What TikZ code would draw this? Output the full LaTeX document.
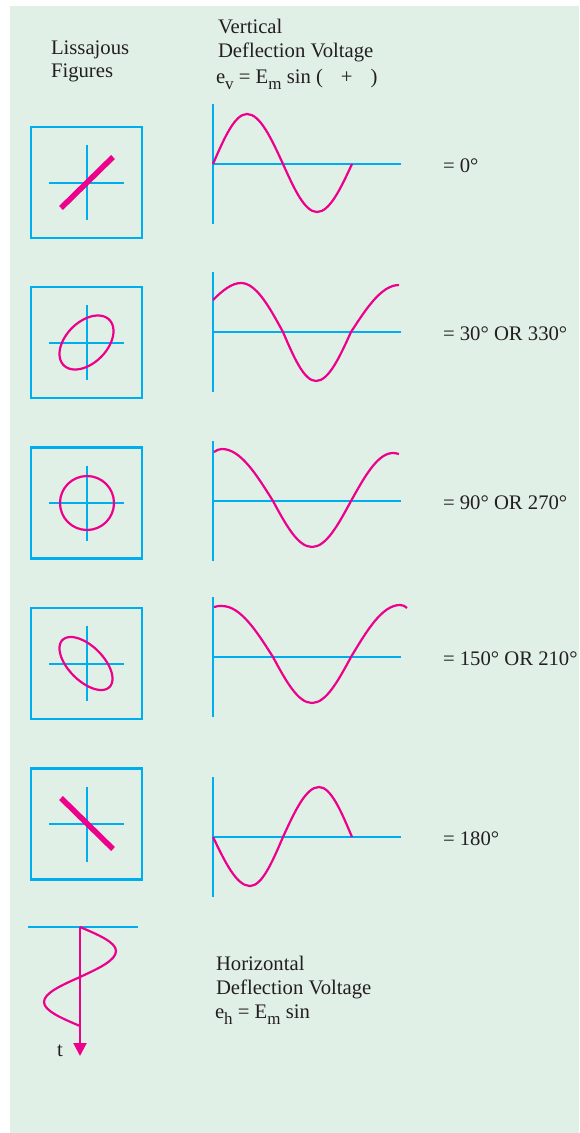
\documentclass[tikz,border=0pt]{standalone}
\usepackage{fontspec}
\setmainfont{Liberation Serif}
\usetikzlibrary{arrows.meta}
\definecolor{bgc}{RGB}{225,240,230}
\definecolor{cy}{RGB}{0,174,239}
\definecolor{mg}{RGB}{236,0,140}
\definecolor{tx}{RGB}{35,31,32}
\newcommand{\sbs}[1]{\raisebox{-6pt}{\fontsize{17}{17}\selectfont #1}}
\begin{document}
\begin{tikzpicture}[x=1pt,y=-1pt,
  lbox/.style={draw=cy, line width=2.5pt, minimum size=111pt, inner sep=0pt, outer sep=0pt},
  axisline/.style={cy, line width=2.4pt},
  crossline/.style={cy, line width=2pt},
  wave/.style={mg, line width=2.2pt},
  bar/.style={mg, line width=5.5pt},
  txt/.style={anchor=base west, inner sep=0pt, outer sep=0pt, text=tx, font=\fontsize{20.7}{24}\selectfont}]
\useasboundingbox (0,0) rectangle (579,1133);
\fill[bgc] (10,6) rectangle (579,1133);

% headings
\node[txt] (h1) at (51,54) {Lissajous};
\node[txt] (h2) at (51,77) {Figures};
\node[txt] (v1) at (218,33) {Vertical};
\node[txt] (v2) at (218,57) {Deflection Voltage};
\node[txt] (v3) at (216,83) {e\sbs{v} = E\sbs{m} sin (\hspace{18pt}+\hspace{18pt})};

% boxes, crosses, axes, labels
\foreach \i/\yc/\ya/\lab in {1/182.5/164/{= 0°},2/342.5/332/{= 30° OR 330°},3/503/501/{= 90° OR 270°},4/663.5/657/{= 150° OR 210°},5/824/837/{= 180°}} {
  \node[lbox] (box\i) at (86.5,\yc) {};
  \draw[crossline] (49,\yc) -- (124,\yc);
  \draw[crossline] (86.5,\yc-37.5) -- (86.5,\yc+37.5);
  \draw[axisline] (213,\ya-60) -- (213,\ya+60);
  \draw[axisline] (213,\ya) -- (401,\ya);
  \node[txt] (lab\i) at (443,\ya+8) {\lab};
}

% Lissajous figures
\draw[bar] (61,208) -- (113,157);
\draw[wave] plot[domain=0:355, samples=72, smooth cycle, variable=\t] ({86.5+27*sin(\t)}, {342.5-27*sin(\t+65)});
\draw[wave] (87,503) circle[radius=27];
\draw[wave] plot[domain=0:355, samples=72, smooth cycle, variable=\t] ({86+26.5*sin(\t)}, {663.5-26.5*sin(\t+125)});
\draw[bar] (61,798) -- (113,849);

% waves
\draw[wave] (213,164) sin (247,114) cos (283,164) sin (317,212) cos (352,164);
\draw[wave] (213,300) .. controls (223,290) and (232,283) .. (241,283) cos (283,332) sin (316,381) cos (351,332) sin (399,285);
\draw[wave] (214,452) .. controls (217,450) and (219,449) .. (222,449) cos (273,501) sin (312,547) cos (351,501) sin (393,453) .. controls (395,453) and (397,453.5) .. (399,454);
\draw[wave] (214,607) .. controls (217,606) and (219,606) .. (222,606) cos (273,657) sin (312,703) cos (351,657) sin (400,605) .. controls (403,605) and (405,606) .. (407,608);
\draw[wave] (213,837) sin (250,886) cos (283,837) sin (319,787) cos (352,837);

% horizontal deflection
\draw[axisline] (28,927) -- (138,927);
\draw[wave] (80,927) .. controls (98.4,934.8) and (116,942.3) .. (116,951)
  .. controls (116,960.4) and (98.4,968.5) .. (80,977)
  .. controls (61.6,985.2) and (44,993) .. (44,1002)
  .. controls (44,1010.7) and (61.6,1018.2) .. (80,1026);
\draw[wave, -{Triangle[length=13pt,width=13pt]}] (80,927) -- (80,1056);
\node[txt] (t) at (57,1056) {t};
\node[txt] (hz1) at (216,970) {Horizontal};
\node[txt] (hz2) at (216,994) {Deflection Voltage};
\node[txt] (hz3) at (215,1018) {e\sbs{h} = E\sbs{m} sin};
\end{tikzpicture}
\end{document}
